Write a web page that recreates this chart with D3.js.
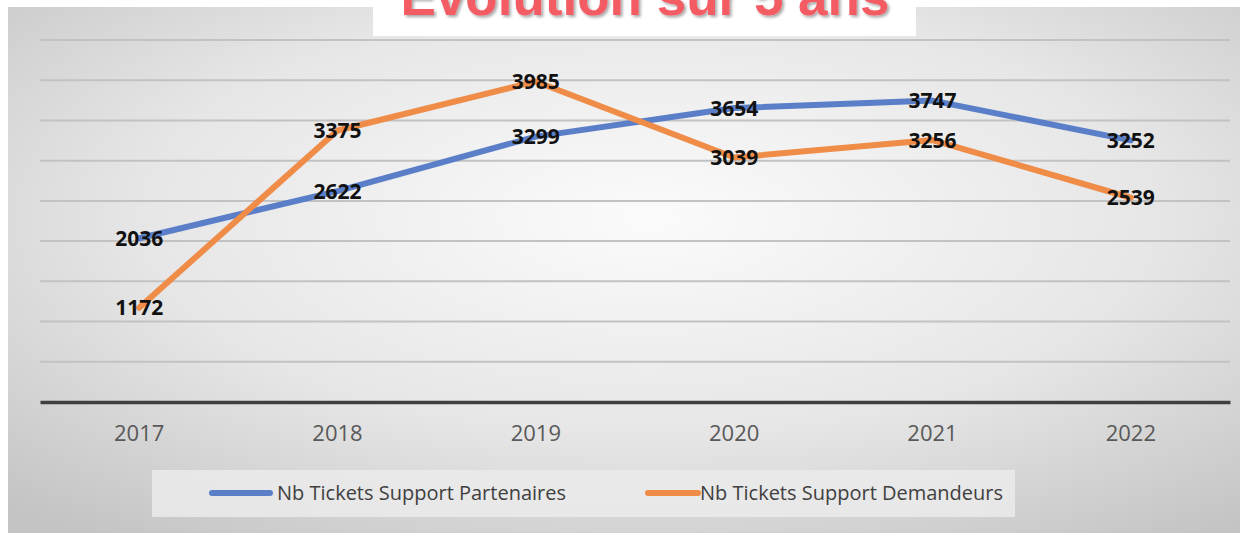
<!DOCTYPE html>
<html><head><meta charset="utf-8">
<script src="https://cdn.jsdelivr.net/npm/d3@7"></script>
<style>html,body{margin:0;padding:0;background:#fff;overflow:hidden}</style>
</head><body>
<svg id="chart" width="1253" height="533"></svg>
<script>
const years = ["2017","2018","2019","2020","2021","2022"];
const partenaires = [2036, 2622, 3299, 3654, 3747, 3252];
const demandeurs = [1172, 3375, 3985, 3039, 3256, 2539];
const seriesNames = ["Nb Tickets Support Partenaires", "Nb Tickets Support Demandeurs"];
const yTicks = [0,500,1000,1500,2000,2500,3000,3500,4000,4500];
const titleText = "Evolution sur 5 ans";

const svg = d3.select("#chart");
const defs = svg.append("defs");
const rg = defs.append("radialGradient").attr("id","bg").attr("cx","52%").attr("cy","40%").attr("r","75%");
rg.append("stop").attr("offset","0%").attr("stop-color","#fbfbfb");
rg.append("stop").attr("offset","55%").attr("stop-color","#e6e6e6");
rg.append("stop").attr("offset","100%").attr("stop-color","#c4c4c4");
const sh = defs.append("filter").attr("id","shadow").attr("x","-10%").attr("y","-50%").attr("width","120%").attr("height","200%");
sh.append("feDropShadow").attr("dx",2).attr("dy",2).attr("stdDeviation",1.5).attr("flood-color","#000").attr("flood-opacity",0.35);

svg.append("rect").attr("x",8).attr("y",7).attr("width",1232).attr("height",526).attr("fill","url(#bg)");

const x = d3.scaleBand().domain(years).range([40,1230]);
const y = d3.scaleLinear().domain([0,4500]).range([402,40]);

// gridlines
svg.append("g").selectAll("line").data(yTicks.filter(t=>t>0)).join("line")
  .attr("x1",40).attr("x2",1230).attr("y1",d=>y(d)).attr("y2",d=>y(d))
  .attr("stroke","#c2c2c2").attr("stroke-width",2);

// x axis
const xAxis = svg.append("g").attr("transform","translate(0,402)")
  .call(d3.axisBottom(x).tickSize(0).tickPadding(23));
xAxis.select(".domain").attr("stroke","#3f3f3f").attr("stroke-width",3.5);
xAxis.selectAll("text").attr("font-family","'Open Sans', sans-serif").attr("font-size",22).attr("fill","#595959");

const colors = ["#5a7fc8","#ef8c48"];
const line = d3.line().x((d,i)=>x(years[i])+x.bandwidth()/2).y(d=>y(d));
[partenaires, demandeurs].forEach((s,k)=>{
  svg.append("path").datum(s).attr("d",line).attr("fill","none")
    .attr("stroke",colors[k]).attr("stroke-width",6).attr("stroke-linejoin","round").attr("stroke-linecap","round");
});
[partenaires, demandeurs].forEach((s,k)=>{
  svg.append("g").selectAll("text").data(s).join("text")
    .attr("x",(d,i)=>x(years[i])+x.bandwidth()/2).attr("y",d=>y(d))
    .attr("dy","0.36em").attr("text-anchor","middle")
    .attr("font-family","'Open Sans', Arial, sans-serif").attr("font-weight","bold")
    .attr("font-size",21).attr("fill","#111").text(d=>d);
});

// legend
svg.append("rect").attr("x",152).attr("y",470).attr("width",863).attr("height",47).attr("fill","#ebebeb").attr("opacity",0.85);
const legX = [212, 648];
seriesNames.forEach((n,k)=>{
  svg.append("line").attr("x1",legX[k]).attr("x2",legX[k]+(k?50:58)).attr("y1",493).attr("y2",493)
    .attr("stroke",colors[k]).attr("stroke-width",6).attr("stroke-linecap","round");
  svg.append("text").attr("x",legX[k]+(k?52:65)).attr("y",493).attr("dy","0.36em")
    .attr("font-family","'Open Sans', sans-serif").attr("font-size",20).attr("fill","#404040").text(n);
});

// title
svg.append("rect").attr("x",373).attr("y",0).attr("width",543).attr("height",36).attr("fill","#fff");
svg.append("text").attr("x",645).attr("y",15).attr("text-anchor","middle")
  .attr("font-family","'Liberation Sans', Arial, sans-serif").attr("font-weight","bold")
  .attr("font-size",53).attr("fill","#f45b63").attr("filter","url(#shadow)").text(titleText);
</script>
</body></html>
